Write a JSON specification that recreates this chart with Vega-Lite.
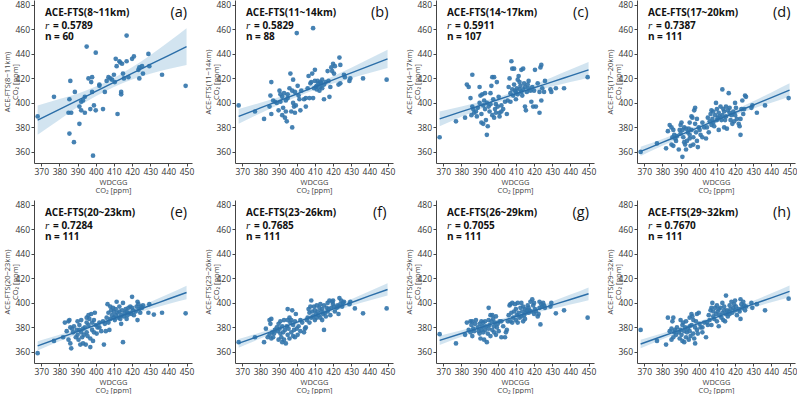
{
"$schema":"https://vega.github.io/schema/vega-lite/v6.json",
"padding":{"left":3,"top":0,"right":0,"bottom":0},
"bounds":"flush",
"columns":4,
"spacing":{"column":43,"row":37},
"config":{
 "view":{"stroke":null},
 "font":"Open Sans",
 "axis":{"grid":false,"labelOverlap":false,"domainColor":"#444","tickColor":"#444","labelColor":"#333","labelFontSize":8.5,"titleFontSize":7.5,"titleFontWeight":"normal","titleColor":"#444","titleLineHeight":8.5,"tickSize":3,"labelPadding":1.5,"titlePadding":2,"domainWidth":1,"tickWidth":1},
 "axisX":{"labelAngle":0},
 "axisY":{"titlePadding":-5},
 "style":{
  "pt":{"color":"#3274ab","size":22,"opacity":0.9},
  "bnd":{"color":"#1f77b4","opacity":0.2,"interpolate":"monotone"},
  "fit":{"color":"#2b6ea8","strokeWidth":1.4,"interpolate":"monotone"},
  "t1":{"fontSize":10,"fontWeight":"bold","align":"left","baseline":"middle","color":"#111"},
  "ri":{"font":"Liberation Serif","fontStyle":"italic","fontSize":11,"align":"left","baseline":"middle","color":"#111"},
  "tk":{"fontSize":14.5,"align":"center","baseline":"middle","color":"#111"}
 }
},
"datasets":{
 "lab":[
  {"p":"a","t":"ACE-FTS(8~11km)","r":"= 0.5789","n":"n = 60","k":"(a)"},
  {"p":"b","t":"ACE-FTS(11~14km)","r":"= 0.5829","n":"n = 88","k":"(b)"},
  {"p":"c","t":"ACE-FTS(14~17km)","r":"= 0.5911","n":"n = 107","k":"(c)"},
  {"p":"d","t":"ACE-FTS(17~20km)","r":"= 0.7387","n":"n = 111","k":"(d)"},
  {"p":"e","t":"ACE-FTS(20~23km)","r":"= 0.7284","n":"n = 111","k":"(e)"},
  {"p":"f","t":"ACE-FTS(23~26km)","r":"= 0.7685","n":"n = 111","k":"(f)"},
  {"p":"g","t":"ACE-FTS(26~29km)","r":"= 0.7055","n":"n = 111","k":"(g)"},
  {"p":"h","t":"ACE-FTS(29~32km)","r":"= 0.7670","n":"n = 111","k":"(h)"}
 ],
 "band":[
  {"p":"a","x":368,"y":386,"lo":374,"hi":398},{"p":"a","x":380,"y":394.8,"lo":386.3,"hi":403.3},{"p":"a","x":390,"y":402.1,"lo":396.6,"hi":407.6},{"p":"a","x":400,"y":409.4,"lo":405.4,"hi":413.4},{"p":"a","x":410,"y":416.7,"lo":413.1,"hi":420.3},{"p":"a","x":420,"y":424.1,"lo":419.1,"hi":429.1},{"p":"a","x":430,"y":431.4,"lo":423.9,"hi":438.9},{"p":"a","x":440,"y":438.7,"lo":427.7,"hi":449.7},{"p":"a","x":450,"y":446,"lo":431,"hi":461},
  {"p":"b","x":368,"y":389,"lo":383,"hi":395},{"p":"b","x":380,"y":395.9,"lo":391.6,"hi":400.2},{"p":"b","x":390,"y":401.6,"lo":398.6,"hi":404.6},{"p":"b","x":400,"y":407.3,"lo":404.8,"hi":409.8},{"p":"b","x":410,"y":413.1,"lo":410.7,"hi":415.5},{"p":"b","x":420,"y":418.8,"lo":415.8,"hi":421.8},{"p":"b","x":430,"y":424.5,"lo":420.2,"hi":428.8},{"p":"b","x":440,"y":430.3,"lo":424.5,"hi":436.1},{"p":"b","x":450,"y":436,"lo":428.5,"hi":443.5},
  {"p":"c","x":368,"y":387,"lo":381,"hi":393},{"p":"c","x":380,"y":392.9,"lo":388.7,"hi":397.1},{"p":"c","x":390,"y":397.7,"lo":394.7,"hi":400.7},{"p":"c","x":400,"y":402.6,"lo":400.3,"hi":404.9},{"p":"c","x":410,"y":407.5,"lo":405.4,"hi":409.6},{"p":"c","x":420,"y":412.4,"lo":409.8,"hi":415},{"p":"c","x":430,"y":417.2,"lo":413.4,"hi":421},{"p":"c","x":440,"y":422.1,"lo":417,"hi":427.2},{"p":"c","x":450,"y":427,"lo":420.5,"hi":433.5},
  {"p":"d","x":368,"y":360.5,"lo":356.7,"hi":364.3},{"p":"d","x":380,"y":367.8,"lo":365,"hi":370.6},{"p":"d","x":390,"y":373.9,"lo":371.8,"hi":376},{"p":"d","x":400,"y":380,"lo":378.2,"hi":381.8},{"p":"d","x":410,"y":386.1,"lo":384.3,"hi":387.9},{"p":"d","x":420,"y":392.2,"lo":390.1,"hi":394.3},{"p":"d","x":430,"y":398.3,"lo":395.3,"hi":401.3},{"p":"d","x":440,"y":404.4,"lo":400.2,"hi":408.6},{"p":"d","x":450,"y":410.5,"lo":405,"hi":416},
  {"p":"e","x":368,"y":365,"lo":361.3,"hi":368.7},{"p":"e","x":380,"y":371.4,"lo":368.7,"hi":374.1},{"p":"e","x":390,"y":376.7,"lo":374.7,"hi":378.7},{"p":"e","x":400,"y":382,"lo":380.3,"hi":383.7},{"p":"e","x":410,"y":387.3,"lo":385.6,"hi":389},{"p":"e","x":420,"y":392.6,"lo":390.6,"hi":394.6},{"p":"e","x":430,"y":397.9,"lo":395,"hi":400.8},{"p":"e","x":440,"y":403.2,"lo":399.1,"hi":407.3},{"p":"e","x":450,"y":408.5,"lo":403,"hi":414},
  {"p":"f","x":368,"y":367,"lo":363.5,"hi":370.5},{"p":"f","x":380,"y":373.4,"lo":370.9,"hi":375.9},{"p":"f","x":390,"y":378.8,"lo":376.9,"hi":380.7},{"p":"f","x":400,"y":384.2,"lo":382.6,"hi":385.8},{"p":"f","x":410,"y":389.6,"lo":388,"hi":391.2},{"p":"f","x":420,"y":394.9,"lo":393,"hi":396.8},{"p":"f","x":430,"y":400.3,"lo":397.6,"hi":403},{"p":"f","x":440,"y":405.7,"lo":401.9,"hi":409.5},{"p":"f","x":450,"y":411,"lo":406,"hi":416},
  {"p":"g","x":368,"y":369.5,"lo":365.7,"hi":373.3},{"p":"g","x":380,"y":375.1,"lo":372.4,"hi":377.8},{"p":"g","x":390,"y":379.7,"lo":377.7,"hi":381.7},{"p":"g","x":400,"y":384.3,"lo":382.6,"hi":386},{"p":"g","x":410,"y":389,"lo":387.3,"hi":390.7},{"p":"g","x":420,"y":393.6,"lo":391.6,"hi":395.6},{"p":"g","x":430,"y":398.2,"lo":395.3,"hi":401.1},{"p":"g","x":440,"y":402.8,"lo":398.8,"hi":406.8},{"p":"g","x":450,"y":407.5,"lo":402.3,"hi":412.7},
  {"p":"h","x":368,"y":366.5,"lo":363,"hi":370},{"p":"h","x":380,"y":372.8,"lo":370.3,"hi":375.3},{"p":"h","x":390,"y":378,"lo":376.1,"hi":379.9},{"p":"h","x":400,"y":383.3,"lo":381.7,"hi":384.9},{"p":"h","x":410,"y":388.5,"lo":386.9,"hi":390.1},{"p":"h","x":420,"y":393.7,"lo":391.8,"hi":395.6},{"p":"h","x":430,"y":399,"lo":396.3,"hi":401.7},{"p":"h","x":440,"y":404.2,"lo":400.5,"hi":407.9},{"p":"h","x":450,"y":409.5,"lo":404.7,"hi":414.3}
 ],
 "pts":[
  {"p":"a","x":368,"y":389},{"p":"a","x":377,"y":405},{"p":"a","x":385,"y":392},{"p":"a","x":385.5,"y":375},{"p":"a","x":385.5,"y":403},{"p":"a","x":386,"y":418},{"p":"a","x":386.5,"y":392},{"p":"a","x":388,"y":368},{"p":"a","x":388.5,"y":409},{"p":"a","x":391,"y":397},{"p":"a","x":391,"y":383},{"p":"a","x":392,"y":394},{"p":"a","x":392,"y":401},{"p":"a","x":393,"y":402},{"p":"a","x":394,"y":405},{"p":"a","x":394,"y":392},{"p":"a","x":395,"y":446},{"p":"a","x":396,"y":420},{"p":"a","x":397,"y":395},{"p":"a","x":397.5,"y":417},{"p":"a","x":398,"y":421},{"p":"a","x":398,"y":409},{"p":"a","x":398.5,"y":357},{"p":"a","x":399,"y":398},{"p":"a","x":400,"y":394},{"p":"a","x":400,"y":441},{"p":"a","x":402,"y":415},{"p":"a","x":404,"y":395},{"p":"a","x":405,"y":409},{"p":"a","x":406,"y":418},{"p":"a","x":407,"y":421},{"p":"a","x":408,"y":420},{"p":"a","x":409,"y":419},{"p":"a","x":410,"y":423},{"p":"a","x":410.5,"y":417},{"p":"a","x":411,"y":436},{"p":"a","x":411.5,"y":430},{"p":"a","x":412,"y":391},{"p":"a","x":413,"y":434},{"p":"a","x":413.5,"y":433},{"p":"a","x":414,"y":409},{"p":"a","x":414,"y":407},{"p":"a","x":414.5,"y":432},{"p":"a","x":415,"y":424},{"p":"a","x":415.5,"y":420},{"p":"a","x":417,"y":455},{"p":"a","x":417,"y":434},{"p":"a","x":418,"y":421},{"p":"a","x":420,"y":436},{"p":"a","x":421,"y":438},{"p":"a","x":423.5,"y":427},{"p":"a","x":424,"y":420},{"p":"a","x":424,"y":429},{"p":"a","x":425.5,"y":430},{"p":"a","x":426,"y":424},{"p":"a","x":429,"y":440},{"p":"a","x":429.5,"y":430},{"p":"a","x":436.5,"y":423},{"p":"a","x":449.5,"y":414},{"p":"a","x":402,"y":414},
  {"p":"b","x":368,"y":398},{"p":"b","x":377,"y":393},{"p":"b","x":382,"y":387},{"p":"b","x":385,"y":397},{"p":"b","x":385.5,"y":406},{"p":"b","x":386,"y":417},{"p":"b","x":386,"y":391},{"p":"b","x":387,"y":402},{"p":"b","x":388,"y":401},{"p":"b","x":389,"y":400},{"p":"b","x":390,"y":394},{"p":"b","x":390.5,"y":410},{"p":"b","x":391,"y":407},{"p":"b","x":391,"y":401},{"p":"b","x":392,"y":405},{"p":"b","x":392,"y":390},{"p":"b","x":392.5,"y":396},{"p":"b","x":393,"y":408},{"p":"b","x":393.5,"y":388},{"p":"b","x":394,"y":402},{"p":"b","x":394,"y":393},{"p":"b","x":394.5,"y":385},{"p":"b","x":395,"y":407},{"p":"b","x":395,"y":404},{"p":"b","x":396,"y":412},{"p":"b","x":396.5,"y":424},{"p":"b","x":397,"y":393},{"p":"b","x":397.5,"y":380},{"p":"b","x":397.5,"y":410},{"p":"b","x":398,"y":419},{"p":"b","x":398,"y":400},{"p":"b","x":398.5,"y":397},{"p":"b","x":399,"y":409},{"p":"b","x":399,"y":392},{"p":"b","x":399.5,"y":398},{"p":"b","x":400,"y":457},{"p":"b","x":400.5,"y":414},{"p":"b","x":401,"y":406},{"p":"b","x":401.5,"y":403},{"p":"b","x":402,"y":394},{"p":"b","x":402.5,"y":410},{"p":"b","x":404,"y":403},{"p":"b","x":405,"y":404},{"p":"b","x":405,"y":397},{"p":"b","x":406,"y":412},{"p":"b","x":406.5,"y":422},{"p":"b","x":407,"y":404},{"p":"b","x":407.5,"y":416},{"p":"b","x":408,"y":417},{"p":"b","x":408.5,"y":424},{"p":"b","x":409,"y":404},{"p":"b","x":409,"y":461},{"p":"b","x":409.5,"y":412},{"p":"b","x":410,"y":418},{"p":"b","x":410,"y":427},{"p":"b","x":410.5,"y":413},{"p":"b","x":411,"y":411},{"p":"b","x":411,"y":414},{"p":"b","x":411.5,"y":418},{"p":"b","x":412,"y":416},{"p":"b","x":412.5,"y":410},{"p":"b","x":413,"y":413},{"p":"b","x":413.5,"y":416},{"p":"b","x":414,"y":419},{"p":"b","x":414,"y":412},{"p":"b","x":415,"y":415},{"p":"b","x":415,"y":403},{"p":"b","x":416,"y":417},{"p":"b","x":417,"y":426},{"p":"b","x":417.5,"y":418},{"p":"b","x":418,"y":405},{"p":"b","x":418.5,"y":413},{"p":"b","x":419,"y":429},{"p":"b","x":419.5,"y":426},{"p":"b","x":420,"y":432},{"p":"b","x":420.5,"y":424},{"p":"b","x":421,"y":430},{"p":"b","x":423,"y":415},{"p":"b","x":423.5,"y":437},{"p":"b","x":424,"y":431},{"p":"b","x":424,"y":416},{"p":"b","x":426,"y":423},{"p":"b","x":426.5,"y":421},{"p":"b","x":429,"y":418},{"p":"b","x":429.5,"y":420},{"p":"b","x":436.5,"y":420},{"p":"b","x":449.5,"y":419},{"p":"b","x":413,"y":417},
  {"p":"c","x":368,"y":372},{"p":"c","x":377,"y":385},{"p":"c","x":382,"y":388},{"p":"c","x":383,"y":415},{"p":"c","x":384,"y":413},{"p":"c","x":385,"y":404},{"p":"c","x":385.5,"y":390},{"p":"c","x":386,"y":423},{"p":"c","x":386,"y":397},{"p":"c","x":386.5,"y":395},{"p":"c","x":387,"y":392},{"p":"c","x":388,"y":393},{"p":"c","x":388.5,"y":389},{"p":"c","x":389,"y":396},{"p":"c","x":390,"y":400},{"p":"c","x":390,"y":413},{"p":"c","x":390.5,"y":406},{"p":"c","x":391,"y":384},{"p":"c","x":391,"y":391},{"p":"c","x":391.5,"y":407},{"p":"c","x":392,"y":383},{"p":"c","x":392,"y":398},{"p":"c","x":392.5,"y":402},{"p":"c","x":393,"y":408},{"p":"c","x":393,"y":395},{"p":"c","x":393.5,"y":386},{"p":"c","x":394,"y":374},{"p":"c","x":394,"y":400},{"p":"c","x":394.5,"y":381},{"p":"c","x":395,"y":397},{"p":"c","x":395.5,"y":393},{"p":"c","x":396,"y":408},{"p":"c","x":396.5,"y":414},{"p":"c","x":397,"y":421},{"p":"c","x":397,"y":390},{"p":"c","x":397.5,"y":403},{"p":"c","x":398,"y":421},{"p":"c","x":398,"y":388},{"p":"c","x":398.5,"y":395},{"p":"c","x":399,"y":399},{"p":"c","x":399,"y":392},{"p":"c","x":399.5,"y":417},{"p":"c","x":400,"y":397},{"p":"c","x":400.5,"y":405},{"p":"c","x":401,"y":392},{"p":"c","x":401,"y":389},{"p":"c","x":402,"y":393},{"p":"c","x":404,"y":401},{"p":"c","x":405,"y":391},{"p":"c","x":405.5,"y":402},{"p":"c","x":406,"y":413},{"p":"c","x":406.5,"y":420},{"p":"c","x":407,"y":401},{"p":"c","x":407,"y":408},{"p":"c","x":407.5,"y":434},{"p":"c","x":408,"y":428},{"p":"c","x":408,"y":411},{"p":"c","x":408.5,"y":406},{"p":"c","x":409,"y":428},{"p":"c","x":409,"y":415},{"p":"c","x":409.5,"y":410},{"p":"c","x":410,"y":403},{"p":"c","x":410,"y":409},{"p":"c","x":410.5,"y":412},{"p":"c","x":411,"y":419},{"p":"c","x":411,"y":407},{"p":"c","x":411.5,"y":422},{"p":"c","x":412,"y":411},{"p":"c","x":412.5,"y":414},{"p":"c","x":413,"y":427},{"p":"c","x":413,"y":409},{"p":"c","x":413.5,"y":406},{"p":"c","x":414,"y":428},{"p":"c","x":414,"y":411},{"p":"c","x":414.5,"y":416},{"p":"c","x":415,"y":397},{"p":"c","x":415,"y":413},{"p":"c","x":415.5,"y":394},{"p":"c","x":416,"y":409},{"p":"c","x":416.5,"y":415},{"p":"c","x":417,"y":418},{"p":"c","x":417,"y":412},{"p":"c","x":418,"y":410},{"p":"c","x":418.5,"y":401},{"p":"c","x":419,"y":413},{"p":"c","x":419.5,"y":397},{"p":"c","x":420,"y":410},{"p":"c","x":420.5,"y":427},{"p":"c","x":421,"y":397},{"p":"c","x":422,"y":416},{"p":"c","x":423,"y":392},{"p":"c","x":423,"y":409},{"p":"c","x":423.5,"y":429},{"p":"c","x":424,"y":431},{"p":"c","x":424,"y":402},{"p":"c","x":424.5,"y":412},{"p":"c","x":425.5,"y":409},{"p":"c","x":426,"y":418},{"p":"c","x":429,"y":411},{"p":"c","x":429.5,"y":409},{"p":"c","x":432,"y":412},{"p":"c","x":436.5,"y":412},{"p":"c","x":449.5,"y":421},{"p":"c","x":402,"y":398},{"p":"c","x":403,"y":395},{"p":"c","x":396,"y":399},{"p":"c","x":412,"y":417},
  {"p":"d","x":368,"y":360},{"p":"d","x":377,"y":367},{"p":"d","x":382,"y":363},{"p":"d","x":383,"y":377},{"p":"d","x":384,"y":382},{"p":"d","x":385,"y":366},{"p":"d","x":385,"y":380},{"p":"d","x":385.5,"y":372},{"p":"d","x":386,"y":378},{"p":"d","x":386,"y":365},{"p":"d","x":386.5,"y":374},{"p":"d","x":387,"y":371},{"p":"d","x":387.5,"y":369},{"p":"d","x":388,"y":373},{"p":"d","x":389,"y":362},{"p":"d","x":389.5,"y":378},{"p":"d","x":390,"y":382},{"p":"d","x":390,"y":375},{"p":"d","x":390.5,"y":384},{"p":"d","x":391,"y":356},{"p":"d","x":391,"y":378},{"p":"d","x":391.5,"y":372},{"p":"d","x":392,"y":368},{"p":"d","x":392,"y":380},{"p":"d","x":392.5,"y":366},{"p":"d","x":393,"y":379},{"p":"d","x":393,"y":362},{"p":"d","x":393.5,"y":369},{"p":"d","x":394,"y":376},{"p":"d","x":394.5,"y":379},{"p":"d","x":395,"y":371},{"p":"d","x":395,"y":374},{"p":"d","x":395.5,"y":365},{"p":"d","x":396,"y":389},{"p":"d","x":396,"y":378},{"p":"d","x":396.5,"y":388},{"p":"d","x":397,"y":372},{"p":"d","x":397,"y":366},{"p":"d","x":397.5,"y":394},{"p":"d","x":398,"y":396},{"p":"d","x":398,"y":383},{"p":"d","x":398.5,"y":376},{"p":"d","x":399,"y":369},{"p":"d","x":399,"y":387},{"p":"d","x":399.5,"y":364},{"p":"d","x":400,"y":380},{"p":"d","x":400.5,"y":378},{"p":"d","x":401,"y":374},{"p":"d","x":402,"y":372},{"p":"d","x":403,"y":380},{"p":"d","x":404,"y":371},{"p":"d","x":405,"y":388},{"p":"d","x":405.5,"y":376},{"p":"d","x":406,"y":385},{"p":"d","x":406.5,"y":391},{"p":"d","x":407,"y":382},{"p":"d","x":407,"y":394},{"p":"d","x":407.5,"y":387},{"p":"d","x":408,"y":393},{"p":"d","x":408,"y":384},{"p":"d","x":408.5,"y":381},{"p":"d","x":409,"y":390},{"p":"d","x":409.5,"y":400},{"p":"d","x":410,"y":386},{"p":"d","x":410,"y":395},{"p":"d","x":410.5,"y":388},{"p":"d","x":411,"y":378},{"p":"d","x":411,"y":392},{"p":"d","x":411.5,"y":389},{"p":"d","x":412,"y":397},{"p":"d","x":412.5,"y":386},{"p":"d","x":413,"y":390},{"p":"d","x":413,"y":411},{"p":"d","x":413.5,"y":395},{"p":"d","x":414,"y":393},{"p":"d","x":414,"y":380},{"p":"d","x":414.5,"y":386},{"p":"d","x":415,"y":397},{"p":"d","x":415,"y":389},{"p":"d","x":415.5,"y":379},{"p":"d","x":416,"y":394},{"p":"d","x":416.5,"y":408},{"p":"d","x":417,"y":392},{"p":"d","x":417,"y":396},{"p":"d","x":417.5,"y":386},{"p":"d","x":418,"y":390},{"p":"d","x":418.5,"y":383},{"p":"d","x":419,"y":393},{"p":"d","x":419.5,"y":385},{"p":"d","x":420,"y":390},{"p":"d","x":420.5,"y":396},{"p":"d","x":421,"y":387},{"p":"d","x":422,"y":383},{"p":"d","x":422.5,"y":381},{"p":"d","x":423,"y":374},{"p":"d","x":423,"y":387},{"p":"d","x":423.5,"y":395},{"p":"d","x":424,"y":402},{"p":"d","x":424.5,"y":391},{"p":"d","x":425,"y":395},{"p":"d","x":425.5,"y":406},{"p":"d","x":426,"y":405},{"p":"d","x":429,"y":396},{"p":"d","x":429.5,"y":398},{"p":"d","x":432,"y":392},{"p":"d","x":436.5,"y":398},{"p":"d","x":449.5,"y":404},{"p":"d","x":402,"y":384},{"p":"d","x":404.5,"y":380},{"p":"d","x":395,"y":384},{"p":"d","x":420,"y":400},
  {"p":"e","x":368,"y":359},{"p":"e","x":377,"y":369},{"p":"e","x":382,"y":372},{"p":"e","x":383,"y":384},{"p":"e","x":384,"y":377},{"p":"e","x":385,"y":385},{"p":"e","x":385,"y":370},{"p":"e","x":385.5,"y":386},{"p":"e","x":386,"y":367},{"p":"e","x":386,"y":380},{"p":"e","x":386.5,"y":363},{"p":"e","x":387,"y":379},{"p":"e","x":387.5,"y":376},{"p":"e","x":388,"y":381},{"p":"e","x":389,"y":372},{"p":"e","x":389.5,"y":378},{"p":"e","x":390,"y":385},{"p":"e","x":390,"y":374},{"p":"e","x":390.5,"y":370},{"p":"e","x":391,"y":378},{"p":"e","x":391,"y":382},{"p":"e","x":391.5,"y":366},{"p":"e","x":392,"y":376},{"p":"e","x":392,"y":386},{"p":"e","x":392.5,"y":372},{"p":"e","x":393,"y":379},{"p":"e","x":393,"y":367},{"p":"e","x":393.5,"y":374},{"p":"e","x":394,"y":380},{"p":"e","x":394.5,"y":366},{"p":"e","x":395,"y":388},{"p":"e","x":395,"y":376},{"p":"e","x":395.5,"y":373},{"p":"e","x":396,"y":390},{"p":"e","x":396,"y":382},{"p":"e","x":396.5,"y":387},{"p":"e","x":397,"y":364},{"p":"e","x":397,"y":371},{"p":"e","x":397.5,"y":391},{"p":"e","x":398,"y":378},{"p":"e","x":398,"y":384},{"p":"e","x":398.5,"y":369},{"p":"e","x":399,"y":376},{"p":"e","x":399,"y":386},{"p":"e","x":399.5,"y":392},{"p":"e","x":400,"y":382},{"p":"e","x":400.5,"y":375},{"p":"e","x":401,"y":380},{"p":"e","x":402,"y":384},{"p":"e","x":403,"y":377},{"p":"e","x":404,"y":385},{"p":"e","x":405,"y":383},{"p":"e","x":405.5,"y":377},{"p":"e","x":406,"y":388},{"p":"e","x":406.5,"y":399},{"p":"e","x":407,"y":384},{"p":"e","x":407,"y":392},{"p":"e","x":407.5,"y":378},{"p":"e","x":408,"y":397},{"p":"e","x":408,"y":387},{"p":"e","x":408.5,"y":394},{"p":"e","x":409,"y":390},{"p":"e","x":409.5,"y":396},{"p":"e","x":410,"y":388},{"p":"e","x":410,"y":393},{"p":"e","x":410.5,"y":386},{"p":"e","x":411,"y":395},{"p":"e","x":411,"y":390},{"p":"e","x":411.5,"y":401},{"p":"e","x":412,"y":392},{"p":"e","x":412.5,"y":388},{"p":"e","x":413,"y":393},{"p":"e","x":413,"y":397},{"p":"e","x":413.5,"y":387},{"p":"e","x":414,"y":390},{"p":"e","x":414,"y":383},{"p":"e","x":414.5,"y":394},{"p":"e","x":415,"y":368},{"p":"e","x":415,"y":400},{"p":"e","x":415.5,"y":389},{"p":"e","x":416,"y":392},{"p":"e","x":416.5,"y":395},{"p":"e","x":417,"y":387},{"p":"e","x":417,"y":393},{"p":"e","x":417.5,"y":390},{"p":"e","x":418,"y":396},{"p":"e","x":418.5,"y":392},{"p":"e","x":419,"y":397},{"p":"e","x":419.5,"y":391},{"p":"e","x":420,"y":405},{"p":"e","x":420.5,"y":394},{"p":"e","x":421,"y":390},{"p":"e","x":422,"y":393},{"p":"e","x":422.5,"y":397},{"p":"e","x":423,"y":386},{"p":"e","x":423,"y":401},{"p":"e","x":423.5,"y":399},{"p":"e","x":424,"y":395},{"p":"e","x":424.5,"y":392},{"p":"e","x":425,"y":397},{"p":"e","x":425.5,"y":396},{"p":"e","x":426,"y":398},{"p":"e","x":429,"y":392},{"p":"e","x":429.5,"y":399},{"p":"e","x":432,"y":390.5},{"p":"e","x":436.5,"y":392},{"p":"e","x":449.5,"y":391.5},{"p":"e","x":402,"y":380},{"p":"e","x":404.5,"y":366},{"p":"e","x":395,"y":384},{"p":"e","x":420,"y":396},
  {"p":"f","x":368,"y":368},{"p":"f","x":377,"y":372},{"p":"f","x":382,"y":368},{"p":"f","x":383,"y":379},{"p":"f","x":384,"y":372},{"p":"f","x":385,"y":386},{"p":"f","x":385,"y":374},{"p":"f","x":385.5,"y":383},{"p":"f","x":386,"y":371},{"p":"f","x":386,"y":387},{"p":"f","x":386.5,"y":376},{"p":"f","x":387,"y":372},{"p":"f","x":387.5,"y":375},{"p":"f","x":388,"y":378},{"p":"f","x":389,"y":380},{"p":"f","x":389.5,"y":377},{"p":"f","x":390,"y":383},{"p":"f","x":390,"y":370},{"p":"f","x":390.5,"y":379},{"p":"f","x":391,"y":385},{"p":"f","x":391,"y":375},{"p":"f","x":391.5,"y":372},{"p":"f","x":392,"y":381},{"p":"f","x":392,"y":368},{"p":"f","x":392.5,"y":376},{"p":"f","x":393,"y":386},{"p":"f","x":393,"y":370},{"p":"f","x":393.5,"y":378},{"p":"f","x":394,"y":367},{"p":"f","x":394.5,"y":381},{"p":"f","x":395,"y":395},{"p":"f","x":395,"y":374},{"p":"f","x":395.5,"y":379},{"p":"f","x":396,"y":388},{"p":"f","x":396,"y":371},{"p":"f","x":396.5,"y":384},{"p":"f","x":397,"y":376},{"p":"f","x":397,"y":386},{"p":"f","x":397.5,"y":394},{"p":"f","x":398,"y":373},{"p":"f","x":398,"y":382},{"p":"f","x":398.5,"y":378},{"p":"f","x":399,"y":372},{"p":"f","x":399,"y":385},{"p":"f","x":399.5,"y":391},{"p":"f","x":400,"y":379},{"p":"f","x":400.5,"y":374},{"p":"f","x":401,"y":381},{"p":"f","x":402,"y":377},{"p":"f","x":403,"y":384},{"p":"f","x":404,"y":376},{"p":"f","x":405,"y":380},{"p":"f","x":405.5,"y":386},{"p":"f","x":406,"y":388},{"p":"f","x":406.5,"y":395},{"p":"f","x":407,"y":384},{"p":"f","x":407,"y":392},{"p":"f","x":407.5,"y":397},{"p":"f","x":408,"y":402},{"p":"f","x":408,"y":388},{"p":"f","x":408.5,"y":393},{"p":"f","x":409,"y":389},{"p":"f","x":409.5,"y":397},{"p":"f","x":410,"y":386},{"p":"f","x":410,"y":394},{"p":"f","x":410.5,"y":391},{"p":"f","x":411,"y":398},{"p":"f","x":411,"y":388},{"p":"f","x":411.5,"y":393},{"p":"f","x":412,"y":390},{"p":"f","x":412.5,"y":396},{"p":"f","x":413,"y":399},{"p":"f","x":413,"y":388},{"p":"f","x":413.5,"y":393},{"p":"f","x":414,"y":395},{"p":"f","x":414,"y":386},{"p":"f","x":414.5,"y":391},{"p":"f","x":415,"y":378},{"p":"f","x":415,"y":398},{"p":"f","x":415.5,"y":392},{"p":"f","x":416,"y":389},{"p":"f","x":416.5,"y":396},{"p":"f","x":417,"y":393},{"p":"f","x":417,"y":400},{"p":"f","x":417.5,"y":395},{"p":"f","x":418,"y":402},{"p":"f","x":418.5,"y":390},{"p":"f","x":419,"y":396},{"p":"f","x":419.5,"y":401},{"p":"f","x":420,"y":399},{"p":"f","x":420.5,"y":397},{"p":"f","x":421,"y":393},{"p":"f","x":422,"y":396},{"p":"f","x":422.5,"y":398},{"p":"f","x":423,"y":391},{"p":"f","x":423,"y":397},{"p":"f","x":423.5,"y":404},{"p":"f","x":424,"y":399},{"p":"f","x":424.5,"y":402},{"p":"f","x":425,"y":397},{"p":"f","x":425.5,"y":400},{"p":"f","x":426,"y":401},{"p":"f","x":429,"y":399},{"p":"f","x":429.5,"y":401},{"p":"f","x":432,"y":395.5},{"p":"f","x":436.5,"y":391.5},{"p":"f","x":449.5,"y":395.5},{"p":"f","x":402,"y":386},{"p":"f","x":404.5,"y":379},{"p":"f","x":395,"y":386},{"p":"f","x":420,"y":402},
  {"p":"g","x":368,"y":374.5},{"p":"g","x":377,"y":367},{"p":"g","x":382,"y":374},{"p":"g","x":383,"y":384},{"p":"g","x":384,"y":378},{"p":"g","x":385,"y":385},{"p":"g","x":385,"y":376},{"p":"g","x":385.5,"y":382},{"p":"g","x":386,"y":373},{"p":"g","x":386,"y":385},{"p":"g","x":386.5,"y":379},{"p":"g","x":387,"y":377},{"p":"g","x":387.5,"y":383},{"p":"g","x":388,"y":386},{"p":"g","x":389,"y":380},{"p":"g","x":389.5,"y":377},{"p":"g","x":390,"y":383},{"p":"g","x":390,"y":375},{"p":"g","x":390.5,"y":371},{"p":"g","x":391,"y":385},{"p":"g","x":391,"y":378},{"p":"g","x":391.5,"y":381},{"p":"g","x":392,"y":384},{"p":"g","x":392,"y":376},{"p":"g","x":392.5,"y":370},{"p":"g","x":393,"y":385},{"p":"g","x":393,"y":378},{"p":"g","x":393.5,"y":381},{"p":"g","x":394,"y":368},{"p":"g","x":394.5,"y":375},{"p":"g","x":395,"y":396},{"p":"g","x":395,"y":379},{"p":"g","x":395.5,"y":382},{"p":"g","x":396,"y":390},{"p":"g","x":396,"y":373},{"p":"g","x":396.5,"y":385},{"p":"g","x":397,"y":390},{"p":"g","x":397,"y":378},{"p":"g","x":397.5,"y":387},{"p":"g","x":398,"y":381},{"p":"g","x":398,"y":376},{"p":"g","x":398.5,"y":384},{"p":"g","x":399,"y":389},{"p":"g","x":399,"y":374},{"p":"g","x":399.5,"y":380},{"p":"g","x":400,"y":383},{"p":"g","x":400.5,"y":377},{"p":"g","x":401,"y":385},{"p":"g","x":402,"y":372},{"p":"g","x":403,"y":381},{"p":"g","x":404,"y":372},{"p":"g","x":405,"y":378},{"p":"g","x":405.5,"y":385},{"p":"g","x":406,"y":390},{"p":"g","x":406.5,"y":398},{"p":"g","x":407,"y":385},{"p":"g","x":407,"y":399},{"p":"g","x":407.5,"y":392},{"p":"g","x":408,"y":400},{"p":"g","x":408,"y":384},{"p":"g","x":408.5,"y":388},{"p":"g","x":409,"y":393},{"p":"g","x":409.5,"y":399},{"p":"g","x":410,"y":386},{"p":"g","x":410,"y":395},{"p":"g","x":410.5,"y":390},{"p":"g","x":411,"y":400},{"p":"g","x":411,"y":384},{"p":"g","x":411.5,"y":392},{"p":"g","x":412,"y":388},{"p":"g","x":412.5,"y":396},{"p":"g","x":413,"y":389},{"p":"g","x":413,"y":400},{"p":"g","x":413.5,"y":393},{"p":"g","x":414,"y":385},{"p":"g","x":414,"y":397},{"p":"g","x":414.5,"y":390},{"p":"g","x":415,"y":387},{"p":"g","x":415,"y":395},{"p":"g","x":415.5,"y":392},{"p":"g","x":416,"y":394},{"p":"g","x":416.5,"y":398},{"p":"g","x":417,"y":392},{"p":"g","x":417,"y":396},{"p":"g","x":417.5,"y":394},{"p":"g","x":418,"y":401},{"p":"g","x":418.5,"y":393},{"p":"g","x":419,"y":403},{"p":"g","x":419.5,"y":398},{"p":"g","x":420,"y":400},{"p":"g","x":420.5,"y":395},{"p":"g","x":421,"y":393},{"p":"g","x":422,"y":389},{"p":"g","x":422.5,"y":391},{"p":"g","x":423,"y":401},{"p":"g","x":423,"y":396},{"p":"g","x":423.5,"y":382.5},{"p":"g","x":424,"y":399},{"p":"g","x":424.5,"y":397},{"p":"g","x":425,"y":400},{"p":"g","x":425.5,"y":398},{"p":"g","x":426,"y":396},{"p":"g","x":429,"y":397},{"p":"g","x":429.5,"y":400},{"p":"g","x":432,"y":391.5},{"p":"g","x":436.5,"y":394},{"p":"g","x":449.5,"y":388},{"p":"g","x":402,"y":385},{"p":"g","x":404.5,"y":376},{"p":"g","x":395,"y":386},{"p":"g","x":420,"y":391},
  {"p":"h","x":368,"y":378},{"p":"h","x":377,"y":369},{"p":"h","x":382,"y":366},{"p":"h","x":383,"y":388},{"p":"h","x":384,"y":377},{"p":"h","x":385,"y":379},{"p":"h","x":385,"y":370},{"p":"h","x":385.5,"y":385},{"p":"h","x":386,"y":388},{"p":"h","x":386,"y":372},{"p":"h","x":386.5,"y":376},{"p":"h","x":387,"y":378},{"p":"h","x":387.5,"y":374},{"p":"h","x":388,"y":380},{"p":"h","x":389,"y":376},{"p":"h","x":389.5,"y":371},{"p":"h","x":390,"y":386},{"p":"h","x":390,"y":378},{"p":"h","x":390.5,"y":374},{"p":"h","x":391,"y":382},{"p":"h","x":391,"y":369},{"p":"h","x":391.5,"y":384},{"p":"h","x":392,"y":377},{"p":"h","x":392,"y":368},{"p":"h","x":392.5,"y":380},{"p":"h","x":393,"y":372},{"p":"h","x":393,"y":385},{"p":"h","x":393.5,"y":376},{"p":"h","x":394,"y":379},{"p":"h","x":394.5,"y":370},{"p":"h","x":395,"y":388},{"p":"h","x":395,"y":377},{"p":"h","x":395.5,"y":373},{"p":"h","x":396,"y":391},{"p":"h","x":396,"y":382},{"p":"h","x":396.5,"y":389},{"p":"h","x":397,"y":375},{"p":"h","x":397,"y":386},{"p":"h","x":397.5,"y":371},{"p":"h","x":398,"y":367},{"p":"h","x":398,"y":380},{"p":"h","x":398.5,"y":385},{"p":"h","x":399,"y":378},{"p":"h","x":399,"y":391},{"p":"h","x":399.5,"y":375},{"p":"h","x":400,"y":392},{"p":"h","x":400.5,"y":383},{"p":"h","x":401,"y":380},{"p":"h","x":402,"y":376},{"p":"h","x":403,"y":384},{"p":"h","x":404,"y":372},{"p":"h","x":405,"y":382},{"p":"h","x":405.5,"y":390},{"p":"h","x":406,"y":386},{"p":"h","x":406.5,"y":394},{"p":"h","x":407,"y":382},{"p":"h","x":407,"y":396},{"p":"h","x":407.5,"y":400},{"p":"h","x":408,"y":389},{"p":"h","x":408,"y":393},{"p":"h","x":408.5,"y":387},{"p":"h","x":409,"y":396},{"p":"h","x":409.5,"y":391},{"p":"h","x":410,"y":385},{"p":"h","x":410,"y":398},{"p":"h","x":410.5,"y":393},{"p":"h","x":411,"y":381},{"p":"h","x":411,"y":395},{"p":"h","x":411.5,"y":390},{"p":"h","x":412,"y":396},{"p":"h","x":412.5,"y":388},{"p":"h","x":413,"y":400},{"p":"h","x":413,"y":392},{"p":"h","x":413.5,"y":386},{"p":"h","x":414,"y":394},{"p":"h","x":414,"y":397},{"p":"h","x":414.5,"y":385},{"p":"h","x":415,"y":406},{"p":"h","x":415,"y":391},{"p":"h","x":415.5,"y":394},{"p":"h","x":416,"y":389},{"p":"h","x":416.5,"y":393},{"p":"h","x":417,"y":398},{"p":"h","x":417,"y":391},{"p":"h","x":417.5,"y":395},{"p":"h","x":418,"y":401},{"p":"h","x":418.5,"y":392},{"p":"h","x":419,"y":396},{"p":"h","x":419.5,"y":399},{"p":"h","x":420,"y":394},{"p":"h","x":420.5,"y":397},{"p":"h","x":421,"y":390},{"p":"h","x":422,"y":395},{"p":"h","x":422.5,"y":393},{"p":"h","x":423,"y":387},{"p":"h","x":423,"y":403},{"p":"h","x":423.5,"y":399},{"p":"h","x":424,"y":396},{"p":"h","x":424.5,"y":401},{"p":"h","x":425,"y":398},{"p":"h","x":425.5,"y":394},{"p":"h","x":426,"y":397},{"p":"h","x":429,"y":400},{"p":"h","x":429.5,"y":396},{"p":"h","x":432,"y":399},{"p":"h","x":436.5,"y":394},{"p":"h","x":449.5,"y":403.5},{"p":"h","x":402,"y":380},{"p":"h","x":404.5,"y":384},{"p":"h","x":395,"y":381},{"p":"h","x":420,"y":402}
 ]
},
"concat":[
 {"width":158,"height":163,"layer":[
   {"data":{"name":"pts"},"transform":[{"filter":"datum.p==='a'"}],"mark":{"type":"circle","style":"pt"},"encoding":{"x":{"field":"x","type":"quantitative","scale":{"domain":[366,453],"nice":false,"zero":false},"axis":{"values":[370,380,390,400,410,420,430,440,450],"tickCount":20,"labelOverlap":false,"title":["WDCGG","CO₂ [ppm]"]}},"y":{"field":"y","type":"quantitative","scale":{"domain":[351,484],"nice":false,"zero":false},"axis":{"values":[360,380,400,420,440,460,480],"tickCount":20,"labelOverlap":false,"title":["ACE-FTS(8~11km)","CO₂ [ppm]"]}}}},
   {"data":{"name":"band"},"transform":[{"filter":"datum.p==='a'"}],"mark":{"type":"area","style":"bnd"},"encoding":{"x":{"field":"x","type":"quantitative"},"y":{"field":"lo","type":"quantitative"},"y2":{"field":"hi"}}},
   {"data":{"name":"band"},"transform":[{"filter":"datum.p==='a'"}],"mark":{"type":"line","style":"fit"},"encoding":{"x":{"field":"x","type":"quantitative"},"y":{"field":"y","type":"quantitative"}}},
   {"data":{"name":"lab"},"transform":[{"filter":"datum.p==='a'"}],"mark":{"type":"text","style":"t1"},"encoding":{"x":{"datum":372},"y":{"datum":473},"text":{"field":"t"}}},
   {"data":{"name":"lab"},"transform":[{"filter":"datum.p==='a'"}],"mark":{"type":"text","style":"ri","text":"r"},"encoding":{"x":{"datum":372},"y":{"datum":463}}},
   {"data":{"name":"lab"},"transform":[{"filter":"datum.p==='a'"}],"mark":{"type":"text","style":"t1"},"encoding":{"x":{"datum":376.5},"y":{"datum":463},"text":{"field":"r"}}},
   {"data":{"name":"lab"},"transform":[{"filter":"datum.p==='a'"}],"mark":{"type":"text","style":"t1"},"encoding":{"x":{"datum":372},"y":{"datum":453.5},"text":{"field":"n"}}},
   {"data":{"name":"lab"},"transform":[{"filter":"datum.p==='a'"}],"mark":{"type":"text","style":"tk"},"encoding":{"x":{"datum":445.7},"y":{"datum":473.5},"text":{"field":"k"}}}
  ]},
 {"width":158,"height":163,"layer":[
   {"data":{"name":"pts"},"transform":[{"filter":"datum.p==='b'"}],"mark":{"type":"circle","style":"pt"},"encoding":{"x":{"field":"x","type":"quantitative","scale":{"domain":[366,453],"nice":false,"zero":false},"axis":{"values":[370,380,390,400,410,420,430,440,450],"tickCount":20,"labelOverlap":false,"title":["WDCGG","CO₂ [ppm]"]}},"y":{"field":"y","type":"quantitative","scale":{"domain":[351,484],"nice":false,"zero":false},"axis":{"values":[360,380,400,420,440,460,480],"tickCount":20,"labelOverlap":false,"title":["ACE-FTS(11~14km)","CO₂ [ppm]"]}}}},
   {"data":{"name":"band"},"transform":[{"filter":"datum.p==='b'"}],"mark":{"type":"area","style":"bnd"},"encoding":{"x":{"field":"x","type":"quantitative"},"y":{"field":"lo","type":"quantitative"},"y2":{"field":"hi"}}},
   {"data":{"name":"band"},"transform":[{"filter":"datum.p==='b'"}],"mark":{"type":"line","style":"fit"},"encoding":{"x":{"field":"x","type":"quantitative"},"y":{"field":"y","type":"quantitative"}}},
   {"data":{"name":"lab"},"transform":[{"filter":"datum.p==='b'"}],"mark":{"type":"text","style":"t1"},"encoding":{"x":{"datum":372},"y":{"datum":473},"text":{"field":"t"}}},
   {"data":{"name":"lab"},"transform":[{"filter":"datum.p==='b'"}],"mark":{"type":"text","style":"ri","text":"r"},"encoding":{"x":{"datum":372},"y":{"datum":463}}},
   {"data":{"name":"lab"},"transform":[{"filter":"datum.p==='b'"}],"mark":{"type":"text","style":"t1"},"encoding":{"x":{"datum":376.5},"y":{"datum":463},"text":{"field":"r"}}},
   {"data":{"name":"lab"},"transform":[{"filter":"datum.p==='b'"}],"mark":{"type":"text","style":"t1"},"encoding":{"x":{"datum":372},"y":{"datum":453.5},"text":{"field":"n"}}},
   {"data":{"name":"lab"},"transform":[{"filter":"datum.p==='b'"}],"mark":{"type":"text","style":"tk"},"encoding":{"x":{"datum":445.7},"y":{"datum":473.5},"text":{"field":"k"}}}
  ]},
 {"width":158,"height":163,"layer":[
   {"data":{"name":"pts"},"transform":[{"filter":"datum.p==='c'"}],"mark":{"type":"circle","style":"pt"},"encoding":{"x":{"field":"x","type":"quantitative","scale":{"domain":[366,453],"nice":false,"zero":false},"axis":{"values":[370,380,390,400,410,420,430,440,450],"tickCount":20,"labelOverlap":false,"title":["WDCGG","CO₂ [ppm]"]}},"y":{"field":"y","type":"quantitative","scale":{"domain":[351,484],"nice":false,"zero":false},"axis":{"values":[360,380,400,420,440,460,480],"tickCount":20,"labelOverlap":false,"title":["ACE-FTS(14~17km)","CO₂ [ppm]"]}}}},
   {"data":{"name":"band"},"transform":[{"filter":"datum.p==='c'"}],"mark":{"type":"area","style":"bnd"},"encoding":{"x":{"field":"x","type":"quantitative"},"y":{"field":"lo","type":"quantitative"},"y2":{"field":"hi"}}},
   {"data":{"name":"band"},"transform":[{"filter":"datum.p==='c'"}],"mark":{"type":"line","style":"fit"},"encoding":{"x":{"field":"x","type":"quantitative"},"y":{"field":"y","type":"quantitative"}}},
   {"data":{"name":"lab"},"transform":[{"filter":"datum.p==='c'"}],"mark":{"type":"text","style":"t1"},"encoding":{"x":{"datum":372},"y":{"datum":473},"text":{"field":"t"}}},
   {"data":{"name":"lab"},"transform":[{"filter":"datum.p==='c'"}],"mark":{"type":"text","style":"ri","text":"r"},"encoding":{"x":{"datum":372},"y":{"datum":463}}},
   {"data":{"name":"lab"},"transform":[{"filter":"datum.p==='c'"}],"mark":{"type":"text","style":"t1"},"encoding":{"x":{"datum":376.5},"y":{"datum":463},"text":{"field":"r"}}},
   {"data":{"name":"lab"},"transform":[{"filter":"datum.p==='c'"}],"mark":{"type":"text","style":"t1"},"encoding":{"x":{"datum":372},"y":{"datum":453.5},"text":{"field":"n"}}},
   {"data":{"name":"lab"},"transform":[{"filter":"datum.p==='c'"}],"mark":{"type":"text","style":"tk"},"encoding":{"x":{"datum":445.7},"y":{"datum":473.5},"text":{"field":"k"}}}
  ]},
 {"width":158,"height":163,"layer":[
   {"data":{"name":"pts"},"transform":[{"filter":"datum.p==='d'"}],"mark":{"type":"circle","style":"pt"},"encoding":{"x":{"field":"x","type":"quantitative","scale":{"domain":[366,453],"nice":false,"zero":false},"axis":{"values":[370,380,390,400,410,420,430,440,450],"tickCount":20,"labelOverlap":false,"title":["WDCGG","CO₂ [ppm]"]}},"y":{"field":"y","type":"quantitative","scale":{"domain":[351,484],"nice":false,"zero":false},"axis":{"values":[360,380,400,420,440,460,480],"tickCount":20,"labelOverlap":false,"title":["ACE-FTS(17~20km)","CO₂ [ppm]"]}}}},
   {"data":{"name":"band"},"transform":[{"filter":"datum.p==='d'"}],"mark":{"type":"area","style":"bnd"},"encoding":{"x":{"field":"x","type":"quantitative"},"y":{"field":"lo","type":"quantitative"},"y2":{"field":"hi"}}},
   {"data":{"name":"band"},"transform":[{"filter":"datum.p==='d'"}],"mark":{"type":"line","style":"fit"},"encoding":{"x":{"field":"x","type":"quantitative"},"y":{"field":"y","type":"quantitative"}}},
   {"data":{"name":"lab"},"transform":[{"filter":"datum.p==='d'"}],"mark":{"type":"text","style":"t1"},"encoding":{"x":{"datum":372},"y":{"datum":473},"text":{"field":"t"}}},
   {"data":{"name":"lab"},"transform":[{"filter":"datum.p==='d'"}],"mark":{"type":"text","style":"ri","text":"r"},"encoding":{"x":{"datum":372},"y":{"datum":463}}},
   {"data":{"name":"lab"},"transform":[{"filter":"datum.p==='d'"}],"mark":{"type":"text","style":"t1"},"encoding":{"x":{"datum":376.5},"y":{"datum":463},"text":{"field":"r"}}},
   {"data":{"name":"lab"},"transform":[{"filter":"datum.p==='d'"}],"mark":{"type":"text","style":"t1"},"encoding":{"x":{"datum":372},"y":{"datum":453.5},"text":{"field":"n"}}},
   {"data":{"name":"lab"},"transform":[{"filter":"datum.p==='d'"}],"mark":{"type":"text","style":"tk"},"encoding":{"x":{"datum":445.7},"y":{"datum":473.5},"text":{"field":"k"}}}
  ]},
 {"width":158,"height":163,"layer":[
   {"data":{"name":"pts"},"transform":[{"filter":"datum.p==='e'"}],"mark":{"type":"circle","style":"pt"},"encoding":{"x":{"field":"x","type":"quantitative","scale":{"domain":[366,453],"nice":false,"zero":false},"axis":{"values":[370,380,390,400,410,420,430,440,450],"tickCount":20,"labelOverlap":false,"title":["WDCGG","CO₂ [ppm]"]}},"y":{"field":"y","type":"quantitative","scale":{"domain":[351,484],"nice":false,"zero":false},"axis":{"values":[360,380,400,420,440,460,480],"tickCount":20,"labelOverlap":false,"title":["ACE-FTS(20~23km)","CO₂ [ppm]"]}}}},
   {"data":{"name":"band"},"transform":[{"filter":"datum.p==='e'"}],"mark":{"type":"area","style":"bnd"},"encoding":{"x":{"field":"x","type":"quantitative"},"y":{"field":"lo","type":"quantitative"},"y2":{"field":"hi"}}},
   {"data":{"name":"band"},"transform":[{"filter":"datum.p==='e'"}],"mark":{"type":"line","style":"fit"},"encoding":{"x":{"field":"x","type":"quantitative"},"y":{"field":"y","type":"quantitative"}}},
   {"data":{"name":"lab"},"transform":[{"filter":"datum.p==='e'"}],"mark":{"type":"text","style":"t1"},"encoding":{"x":{"datum":372},"y":{"datum":473},"text":{"field":"t"}}},
   {"data":{"name":"lab"},"transform":[{"filter":"datum.p==='e'"}],"mark":{"type":"text","style":"ri","text":"r"},"encoding":{"x":{"datum":372},"y":{"datum":463}}},
   {"data":{"name":"lab"},"transform":[{"filter":"datum.p==='e'"}],"mark":{"type":"text","style":"t1"},"encoding":{"x":{"datum":376.5},"y":{"datum":463},"text":{"field":"r"}}},
   {"data":{"name":"lab"},"transform":[{"filter":"datum.p==='e'"}],"mark":{"type":"text","style":"t1"},"encoding":{"x":{"datum":372},"y":{"datum":453.5},"text":{"field":"n"}}},
   {"data":{"name":"lab"},"transform":[{"filter":"datum.p==='e'"}],"mark":{"type":"text","style":"tk"},"encoding":{"x":{"datum":445.7},"y":{"datum":473.5},"text":{"field":"k"}}}
  ]},
 {"width":158,"height":163,"layer":[
   {"data":{"name":"pts"},"transform":[{"filter":"datum.p==='f'"}],"mark":{"type":"circle","style":"pt"},"encoding":{"x":{"field":"x","type":"quantitative","scale":{"domain":[366,453],"nice":false,"zero":false},"axis":{"values":[370,380,390,400,410,420,430,440,450],"tickCount":20,"labelOverlap":false,"title":["WDCGG","CO₂ [ppm]"]}},"y":{"field":"y","type":"quantitative","scale":{"domain":[351,484],"nice":false,"zero":false},"axis":{"values":[360,380,400,420,440,460,480],"tickCount":20,"labelOverlap":false,"title":["ACE-FTS(23~26km)","CO₂ [ppm]"]}}}},
   {"data":{"name":"band"},"transform":[{"filter":"datum.p==='f'"}],"mark":{"type":"area","style":"bnd"},"encoding":{"x":{"field":"x","type":"quantitative"},"y":{"field":"lo","type":"quantitative"},"y2":{"field":"hi"}}},
   {"data":{"name":"band"},"transform":[{"filter":"datum.p==='f'"}],"mark":{"type":"line","style":"fit"},"encoding":{"x":{"field":"x","type":"quantitative"},"y":{"field":"y","type":"quantitative"}}},
   {"data":{"name":"lab"},"transform":[{"filter":"datum.p==='f'"}],"mark":{"type":"text","style":"t1"},"encoding":{"x":{"datum":372},"y":{"datum":473},"text":{"field":"t"}}},
   {"data":{"name":"lab"},"transform":[{"filter":"datum.p==='f'"}],"mark":{"type":"text","style":"ri","text":"r"},"encoding":{"x":{"datum":372},"y":{"datum":463}}},
   {"data":{"name":"lab"},"transform":[{"filter":"datum.p==='f'"}],"mark":{"type":"text","style":"t1"},"encoding":{"x":{"datum":376.5},"y":{"datum":463},"text":{"field":"r"}}},
   {"data":{"name":"lab"},"transform":[{"filter":"datum.p==='f'"}],"mark":{"type":"text","style":"t1"},"encoding":{"x":{"datum":372},"y":{"datum":453.5},"text":{"field":"n"}}},
   {"data":{"name":"lab"},"transform":[{"filter":"datum.p==='f'"}],"mark":{"type":"text","style":"tk"},"encoding":{"x":{"datum":445.7},"y":{"datum":473.5},"text":{"field":"k"}}}
  ]},
 {"width":158,"height":163,"layer":[
   {"data":{"name":"pts"},"transform":[{"filter":"datum.p==='g'"}],"mark":{"type":"circle","style":"pt"},"encoding":{"x":{"field":"x","type":"quantitative","scale":{"domain":[366,453],"nice":false,"zero":false},"axis":{"values":[370,380,390,400,410,420,430,440,450],"tickCount":20,"labelOverlap":false,"title":["WDCGG","CO₂ [ppm]"]}},"y":{"field":"y","type":"quantitative","scale":{"domain":[351,484],"nice":false,"zero":false},"axis":{"values":[360,380,400,420,440,460,480],"tickCount":20,"labelOverlap":false,"title":["ACE-FTS(26~29km)","CO₂ [ppm]"]}}}},
   {"data":{"name":"band"},"transform":[{"filter":"datum.p==='g'"}],"mark":{"type":"area","style":"bnd"},"encoding":{"x":{"field":"x","type":"quantitative"},"y":{"field":"lo","type":"quantitative"},"y2":{"field":"hi"}}},
   {"data":{"name":"band"},"transform":[{"filter":"datum.p==='g'"}],"mark":{"type":"line","style":"fit"},"encoding":{"x":{"field":"x","type":"quantitative"},"y":{"field":"y","type":"quantitative"}}},
   {"data":{"name":"lab"},"transform":[{"filter":"datum.p==='g'"}],"mark":{"type":"text","style":"t1"},"encoding":{"x":{"datum":372},"y":{"datum":473},"text":{"field":"t"}}},
   {"data":{"name":"lab"},"transform":[{"filter":"datum.p==='g'"}],"mark":{"type":"text","style":"ri","text":"r"},"encoding":{"x":{"datum":372},"y":{"datum":463}}},
   {"data":{"name":"lab"},"transform":[{"filter":"datum.p==='g'"}],"mark":{"type":"text","style":"t1"},"encoding":{"x":{"datum":376.5},"y":{"datum":463},"text":{"field":"r"}}},
   {"data":{"name":"lab"},"transform":[{"filter":"datum.p==='g'"}],"mark":{"type":"text","style":"t1"},"encoding":{"x":{"datum":372},"y":{"datum":453.5},"text":{"field":"n"}}},
   {"data":{"name":"lab"},"transform":[{"filter":"datum.p==='g'"}],"mark":{"type":"text","style":"tk"},"encoding":{"x":{"datum":445.7},"y":{"datum":473.5},"text":{"field":"k"}}}
  ]},
 {"width":158,"height":163,"layer":[
   {"data":{"name":"pts"},"transform":[{"filter":"datum.p==='h'"}],"mark":{"type":"circle","style":"pt"},"encoding":{"x":{"field":"x","type":"quantitative","scale":{"domain":[366,453],"nice":false,"zero":false},"axis":{"values":[370,380,390,400,410,420,430,440,450],"tickCount":20,"labelOverlap":false,"title":["WDCGG","CO₂ [ppm]"]}},"y":{"field":"y","type":"quantitative","scale":{"domain":[351,484],"nice":false,"zero":false},"axis":{"values":[360,380,400,420,440,460,480],"tickCount":20,"labelOverlap":false,"title":["ACE-FTS(29~32km)","CO₂ [ppm]"]}}}},
   {"data":{"name":"band"},"transform":[{"filter":"datum.p==='h'"}],"mark":{"type":"area","style":"bnd"},"encoding":{"x":{"field":"x","type":"quantitative"},"y":{"field":"lo","type":"quantitative"},"y2":{"field":"hi"}}},
   {"data":{"name":"band"},"transform":[{"filter":"datum.p==='h'"}],"mark":{"type":"line","style":"fit"},"encoding":{"x":{"field":"x","type":"quantitative"},"y":{"field":"y","type":"quantitative"}}},
   {"data":{"name":"lab"},"transform":[{"filter":"datum.p==='h'"}],"mark":{"type":"text","style":"t1"},"encoding":{"x":{"datum":372},"y":{"datum":473},"text":{"field":"t"}}},
   {"data":{"name":"lab"},"transform":[{"filter":"datum.p==='h'"}],"mark":{"type":"text","style":"ri","text":"r"},"encoding":{"x":{"datum":372},"y":{"datum":463}}},
   {"data":{"name":"lab"},"transform":[{"filter":"datum.p==='h'"}],"mark":{"type":"text","style":"t1"},"encoding":{"x":{"datum":376.5},"y":{"datum":463},"text":{"field":"r"}}},
   {"data":{"name":"lab"},"transform":[{"filter":"datum.p==='h'"}],"mark":{"type":"text","style":"t1"},"encoding":{"x":{"datum":372},"y":{"datum":453.5},"text":{"field":"n"}}},
   {"data":{"name":"lab"},"transform":[{"filter":"datum.p==='h'"}],"mark":{"type":"text","style":"tk"},"encoding":{"x":{"datum":445.7},"y":{"datum":473.5},"text":{"field":"k"}}}
  ]}
]
}
